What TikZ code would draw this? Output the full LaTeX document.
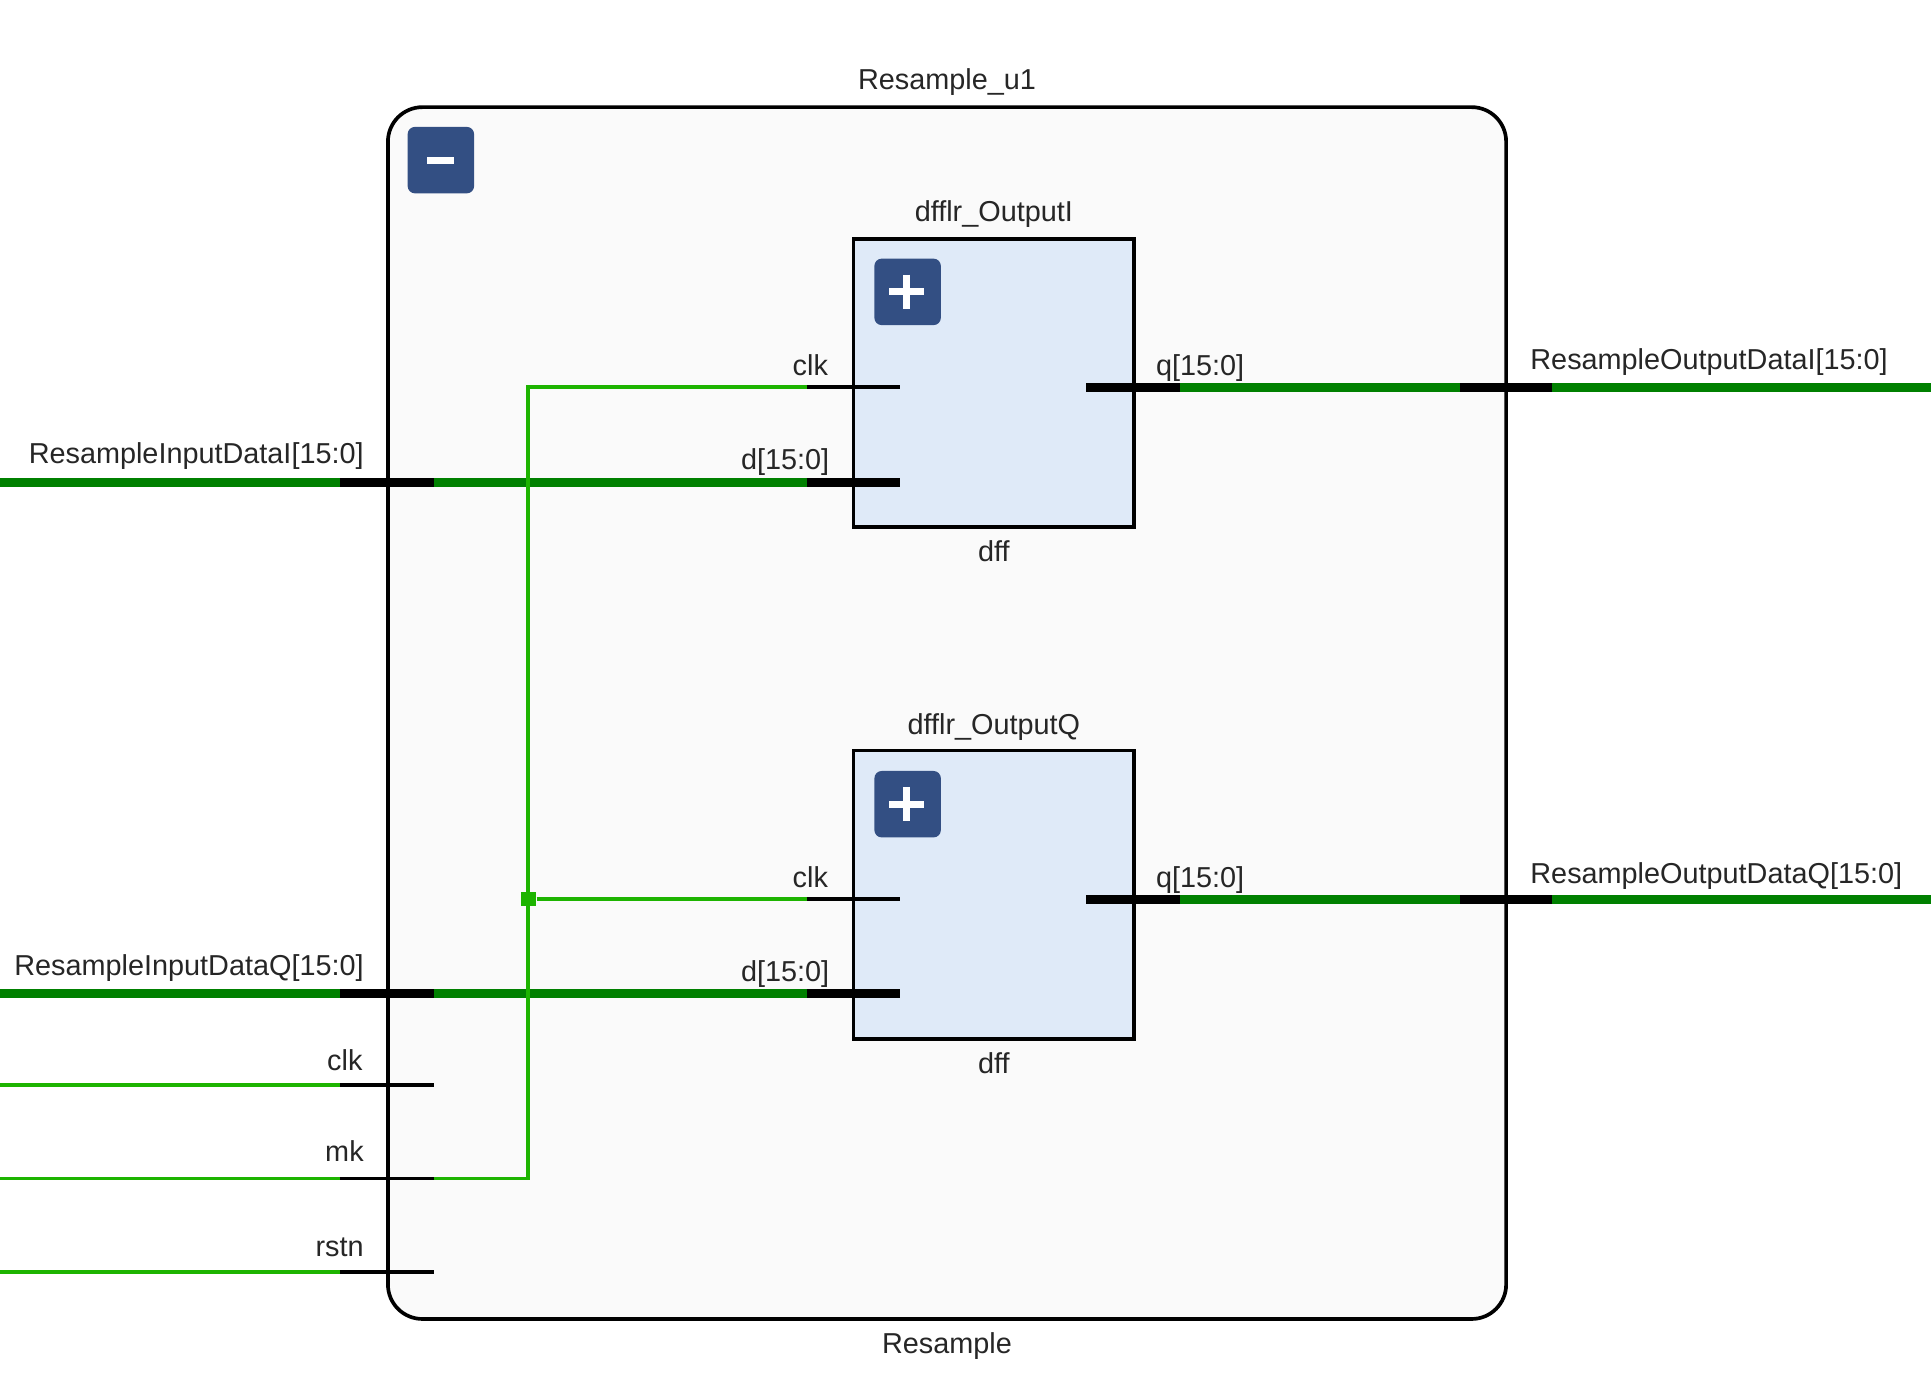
\documentclass[tikz,border=0pt]{standalone}
\usepackage{fontspec}
\setmainfont{Liberation Sans}
\usetikzlibrary{positioning}
\usetikzlibrary{calc}
\definecolor{busgreen}{HTML}{008000}
\definecolor{wiregreen}{HTML}{1DB400}
\definecolor{btnblue}{HTML}{334F83}
\definecolor{cellblue}{HTML}{DFEAF8}
\definecolor{hierfill}{HTML}{FAFAFA}
\tikzstyle{hier}=[draw=black,fill=hierfill,line width=.85pt,rounded corners=.28cm,minimum width=9.08cm,minimum height=9.84cm,inner sep=0pt]
\tikzstyle{cell}=[draw=black,fill=cellblue,line width=.85pt,minimum width=2.28cm,minimum height=2.34cm,inner sep=0pt]
\tikzstyle{btn}=[fill=btnblue,rounded corners=.06cm,minimum size=.54cm,inner sep=0pt]
\tikzstyle{btnmark} = [draw=white,line width=1.6pt]
\tikzstyle{bus} = [draw=busgreen,line width=2.1pt]
\tikzstyle{wire} = [draw=wiregreen,line width=.85pt]
\tikzstyle{buspin} = [draw=black,line width=2.1pt]
\tikzstyle{wirepin} = [draw=black,line width=.85pt]
\tikzstyle{portl} = [font=\fontsize{6.66}{8}\selectfont,text=black!85,inner sep=0pt,anchor=base east]
\tikzstyle{portr} = [font=\fontsize{6.66}{8}\selectfont,text=black!85,inner sep=0pt,anchor=base west]
\tikzstyle{title} = [font=\fontsize{6.66}{8}\selectfont,text=black!85,inner sep=0pt,anchor=base]

\begin{document}
\begin{tikzpicture}[y=-1cm]
    \useasboundingbox (0,0) rectangle (15.68,11.19);

    \node[hier] (top) at (7.69,5.79) {};
    \node[cell] (dffI) at (8.07,3.11) {};
    \node[cell] (dffQ) at (8.07,7.265) {};

    \foreach \pos/\name in {{(3.58,1.30)/btnTop}, {(7.37,2.37)/btnI}, {(7.37,6.53)/btnQ}}
        \node[btn] (\name) at \pos {};

    \draw[btnmark] ($(btnTop)+(-.11,0)$) -- ($(btnTop)+(.11,0)$);
    \foreach \name in {btnI,btnQ} {
        \draw[btnmark] ($(\name)+(-.15,0)$) -- ($(\name)+(.13,0)$);
        \draw[btnmark] ($(\name)+(-.01,-.14)$) -- ($(\name)+(-.01,.14)$);
    }

    % left side ports, right side ports, cell pins
    \foreach \pos/\name in {{(0,3.915)/inI}, {(0,8.065)/inQ}, {(0,8.81)/inClk}, {(0,9.57)/inMk}, {(0,10.33)/inRst},
                            {(2.76,3.915)/pIa}, {(2.76,8.065)/pQa}, {(2.76,8.81)/pClka}, {(2.76,9.57)/pMka}, {(2.76,10.33)/pRsta},
                            {(3.525,3.915)/pIb}, {(3.525,8.065)/pQb}, {(3.525,8.81)/pClkb}, {(3.525,9.57)/pMkb}, {(3.525,10.33)/pRstb},
                            {(6.55,3.145)/clkIa}, {(7.31,3.145)/clkIb}, {(6.55,7.30)/clkQa}, {(7.31,7.30)/clkQb},
                            {(6.55,3.915)/dIa}, {(7.31,3.915)/dIb}, {(6.55,8.065)/dQa}, {(7.31,8.065)/dQb},
                            {(8.82,3.145)/qIa}, {(9.58,3.145)/qIb}, {(8.82,7.305)/qQa}, {(9.58,7.305)/qQb},
                            {(11.855,3.145)/oIa}, {(12.60,3.145)/oIb}, {(11.855,7.305)/oQa}, {(12.60,7.305)/oQb},
                            {(15.68,3.145)/outI}, {(15.68,7.305)/outQ}}
        \node[coordinate] (\name) at \pos {};

    \foreach \source/\dest in {inI/pIa, pIb/dIa, inQ/pQa, pQb/dQa, qIb/oIa, oIb/outI, qQb/oQa, oQb/outQ}
        \path[bus] (\source) -- (\dest);

    \foreach \source/\dest in {inClk/pClka, inMk/pMka, inRst/pRsta}
        \path[wire] (\source) -- (\dest);

    \node[fill=wiregreen,minimum size=.12cm,inner sep=0pt] (joint) at (4.29,7.30) {};
    \path[wire] (pMkb) -| (joint.center) |- (clkIa);
    \path[wire] (joint) -- (clkQa);

    \foreach \source/\dest in {pIa/pIb, pQa/pQb, dIa/dIb, dQa/dQb, qIa/qIb, qQa/qQb, oIa/oIb, oQa/oQb}
        \path[buspin] (\source) -- (\dest);

    \foreach \source/\dest in {pClka/pClkb, pMka/pMkb, pRsta/pRstb, clkIa/clkIb, clkQa/clkQb}
        \path[wirepin] (\source) -- (\dest);

    \foreach \pos/\name/\label in {{(7.69,.73)/tInst/Resample\_u1}, {(7.69,10.99)/tType/Resample},
                                   {(8.07,1.80)/tI/dfflr\_OutputI}, {(8.07,4.56)/tdI/dff},
                                   {(8.07,5.96)/tQ/dfflr\_OutputQ}, {(8.07,8.72)/tdQ/dff}}
        \node[title] (\name) at \pos {\label};

    \foreach \pos/\name/\label in {{(2.96,3.76)/lI/ResampleInputDataI[15:0]}, {(2.96,7.92)/lQ/ResampleInputDataQ[15:0]},
                                   {(2.95,8.69)/lClk/clk}, {(2.96,9.43)/lMk/mk}, {(2.96,10.20)/lRst/rstn},
                                   {(6.73,3.05)/lcI/clk}, {(6.74,3.81)/ldI/d[15:0]}, {(6.73,7.21)/lcQ/clk}, {(6.74,7.97)/ldQ/d[15:0]}}
        \node[portl] (\name) at \pos {\label};

    \foreach \pos/\name/\label in {{(9.38,3.05)/lqI/q[15:0]}, {(9.38,7.21)/lqQ/q[15:0]},
                                   {(12.42,3.00)/loI/ResampleOutputDataI[15:0]}, {(12.42,7.17)/loQ/ResampleOutputDataQ[15:0]}}
        \node[portr] (\name) at \pos {\label};

\end{tikzpicture}
\end{document}
